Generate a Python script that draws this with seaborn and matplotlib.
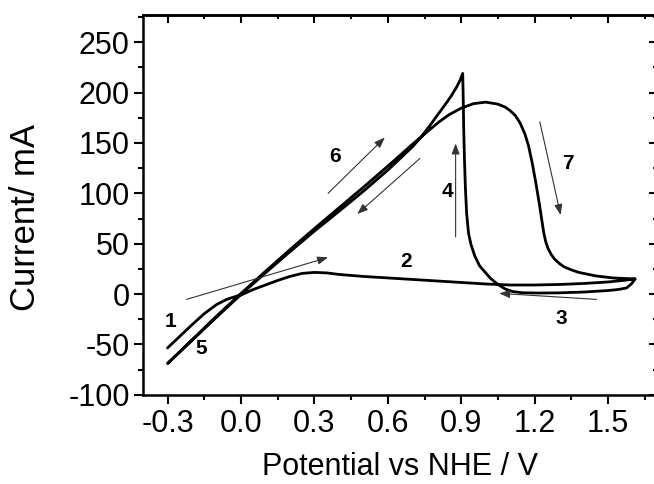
import pandas as pd
import seaborn as sns
import matplotlib
matplotlib.use('Agg')
import matplotlib.pyplot as plt
from matplotlib.ticker import MultipleLocator, FormatStrFormatter

sns.set_theme(style='ticks')
plt.rcParams['font.family'] = ['Liberation Sans', 'DejaVu Sans']
plt.rcParams['axes.unicode_minus'] = False
for k in ['text.color', 'axes.labelcolor', 'xtick.color', 'ytick.color', 'axes.edgecolor']:
    plt.rcParams[k] = 'black'

# first forward scan (1 -> 2)
fwd1_v = [-0.30, -0.25, -0.20, -0.15, -0.10, -0.06, -0.03, 0.00, 0.05, 0.10,
          0.15, 0.20, 0.25, 0.30, 0.35, 0.40, 0.45, 0.50, 0.60, 0.70,
          0.80, 0.90, 1.00, 1.10, 1.20, 1.30, 1.40, 1.50, 1.56, 1.61]
fwd1_i = [-53.5, -42, -30.5, -19.5, -10.5, -5.5, -3, -1, 4.5, 9,
          13.5, 17.5, 20.5, 21.5, 21, 19.5, 18.5, 17.5, 16, 14.5,
          13, 11.5, 10, 9, 9, 9.5, 10.5, 12, 13.5, 15]

# reverse scan (3 -> 4), spike, then back down the diagonal (5)
rev_v = [1.61, 1.595, 1.575, 1.54, 1.50, 1.40, 1.30, 1.22, 1.15, 1.11,
         1.08, 1.05, 1.02, 1.00, 0.975, 0.955, 0.94, 0.93, 0.922, 0.917,
         0.913, 0.910, 0.908, 0.906,
         0.895, 0.88, 0.86, 0.84, 0.81, 0.78, 0.74, 0.70, 0.60, 0.50,
         0.40, 0.30, 0.20, 0.10, 0.00, -0.10, -0.20, -0.30]
rev_i = [15, 10, 6, 4.5, 3.5, 2, 1.2, 1, 1.3, 2.5,
         5, 9.5, 15.5, 21, 28, 38, 49, 60, 80, 105,
         135, 165, 195, 219,
         212, 205, 197, 190, 180, 170, 157, 146, 123, 102,
         82, 62.5, 42, 21, -0.5, -23, -46, -69]

# second forward scan (6 -> 7)
fwd2_v = [-0.20, -0.10, 0.00, 0.10, 0.20, 0.30, 0.40, 0.50, 0.60, 0.70,
          0.77, 0.81, 0.85, 0.90, 0.95, 1.00, 1.05, 1.08, 1.10, 1.12,
          1.14, 1.16, 1.175, 1.19, 1.205, 1.22, 1.23, 1.237, 1.245, 1.255,
          1.267, 1.28, 1.30, 1.32, 1.35, 1.38, 1.45, 1.52, 1.61]
fwd2_i = [-45.5, -22, 0.5, 22.5, 44, 65, 85.5, 106, 127, 148.5,
          163, 171, 178, 184.5, 189, 190.5, 188.5, 185.5, 182, 177.5,
          170, 159, 147, 130, 110, 88, 72, 61, 52, 45,
          39.5, 35, 30.5, 27, 24, 21.5, 18, 16, 15]

# arrows: tail -> head
arrow_tail_v = [-0.222, 0.356, 0.731, 0.877, 1.221, 1.453]
arrow_tail_i = [-5.3, 100, 134.6, 56.8, 171, -5.3]
arrow_head_v = [0.356, 0.588, 0.475, 0.877, 1.306, 1.055]
arrow_head_i = [36.4, 155.4, 79.4, 149.5, 78.4, 0.7]

# step numbers
label_text = ['1', '2', '3', '4', '5', '6', '7']
label_v = [-0.286, 0.675, 1.308, 0.845, -0.163, 0.384, 1.334]
label_i = [-27.5, 32, -23.8, 101.5, -53.6, 136.5, 130]

df = pd.concat([pd.DataFrame({'potential': v, 'current': i})
                for v, i in [(fwd1_v, fwd1_i), (rev_v, rev_i), (fwd2_v, fwd2_i)]],
               ignore_index=True)

fig = plt.figure(figsize=(6.54, 4.84), dpi=100)
ax = fig.add_axes([0.2187, 0.1843, 0.786, 0.7847])

sns.lineplot(data=df, x='potential', y='current', sort=False, estimator=None,
             color='black', linewidth=2.0, ax=ax)

for tv, ti, hv, hi in zip(arrow_tail_v, arrow_tail_i, arrow_head_v, arrow_head_i):
    ax.annotate('', xy=(hv, hi), xytext=(tv, ti),
                arrowprops=dict(arrowstyle='-|>,head_length=0.8,head_width=0.3',
                                mutation_scale=8, lw=0.8, color='#333333',
                                shrinkA=0, shrinkB=0))

for t, v, i in zip(label_text, label_v, label_i):
    ax.text(v, i, t, ha='center', va='center', fontsize=15, fontweight='bold')

ax.set_xlim(-0.4, 1.7)
ax.set_ylim(-100, 277)
ax.xaxis.set_major_locator(MultipleLocator(0.3))
ax.xaxis.set_minor_locator(MultipleLocator(0.15))
ax.xaxis.set_major_formatter(FormatStrFormatter('%.1f'))
ax.yaxis.set_major_locator(MultipleLocator(50))
ax.yaxis.set_minor_locator(MultipleLocator(25))

ax.tick_params(which='both', direction='out', width=1.5, labelsize=22,
               top=False, right=False)
ax.tick_params(which='major', length=6.5)
ax.tick_params(which='minor', length=3.6)
ax.tick_params(axis='x', pad=4)
ax.tick_params(axis='y', pad=3)
for s in ax.spines.values():
    s.set_linewidth(1.8)

# inward ticks on top and right
top = ax.secondary_xaxis('top')
top.xaxis.set_major_locator(MultipleLocator(0.3))
top.xaxis.set_minor_locator(MultipleLocator(0.15))
top.tick_params(which='both', direction='in', labeltop=False, width=1.5)
top.tick_params(which='major', length=5.5)
top.tick_params(which='minor', length=3)
top.spines['top'].set_linewidth(1.8)
right = ax.secondary_yaxis('right')
right.yaxis.set_major_locator(MultipleLocator(50))
right.yaxis.set_minor_locator(MultipleLocator(25))
right.tick_params(which='both', direction='in', labelright=False, width=1.5)
right.tick_params(which='major', length=5.5)
right.tick_params(which='minor', length=3)
right.spines['right'].set_linewidth(1.8)

ax.set_xlabel('Potential vs NHE / V', fontsize=22)
ax.set_ylabel('Current/ mA', fontsize=25)
ax.xaxis.set_label_coords(0.5, -0.19)
ax.xaxis.label.set_va('center')
ax.yaxis.set_label_coords(-0.2295, 0.466)
ax.yaxis.label.set_va('center')

fig.savefig('out.png', dpi=100)
